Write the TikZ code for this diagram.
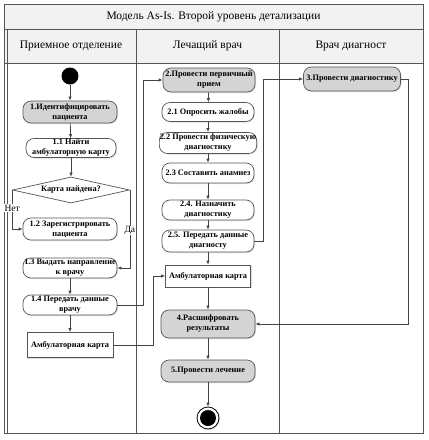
\documentclass[tikz,border=0pt]{standalone}
\usepackage{fontspec}
\setmainfont{Liberation Serif}
\usetikzlibrary{shapes.geometric,arrows.meta,shadows}
\definecolor{linec}{HTML}{555555}
\definecolor{hdr}{HTML}{F2F2F2}
\definecolor{gfill}{HTML}{D4D4D4}
\begin{document}
\begin{tikzpicture}[x=1pt,y=-1pt,
  act/.style={draw=linec, line width=0.7pt, rounded corners=8pt, fill=white,
    minimum width=94pt, minimum height=20pt, inner sep=0.5pt, align=center,
    font=\bfseries\fontsize{8.3}{10}\selectfont,
    drop shadow={opacity=0.25, shadow xshift=1pt, shadow yshift=-1pt}},
  gact/.style={act, fill=gfill},
  card/.style={draw=linec, line width=0.7pt, fill=white, inner sep=1pt,
    font=\bfseries\fontsize{8.3}{10}\selectfont,
    drop shadow={opacity=0.25, shadow xshift=1pt, shadow yshift=-1pt}},
  arr/.style={draw=linec!80!black, line width=0.7pt, -{Latex[length=4pt,width=3.5pt]}},
  lane/.style={draw=linec, line width=0.8pt},
  hdrtext/.style={font=\fontsize{11.5}{13}\selectfont},
  lbl/.style={fill=white, inner sep=0.5pt, font=\fontsize{9.5}{10}\selectfont}
]
\useasboundingbox (0,0) rectangle (429,440);
% frame
\fill[hdr] (4,4) rectangle (423,63);
\draw[lane] (4,4) rectangle (423,433);
\draw[lane] (4,29) -- (423,29);
\draw[lane] (4,63) -- (423,63);
\draw[lane] (7,29) -- (7,433);
\draw[lane, line width=1pt] (136,29) -- (136,433);
\draw[lane] (279,29) -- (279,433);
\node[hdrtext] (title) at (213.5,17) {Модель As-Is. Второй уровень детализации};
\node[hdrtext] (h1) at (71,46) {Приемное отделение};
\node[hdrtext] (h2) at (207.5,46) {Лечащий врач};
\node[hdrtext] (h3) at (351,46) {Врач диагност};
% left lane
\node[circle, fill=black, minimum size=17pt, inner sep=0pt] (start) at (70,76) {};
\node[gact, minimum height=22pt] (n1) at (70,112) {1.Идентифицировать\\пациента};
\node[act, minimum width=90pt, minimum height=19pt] (n11) at (71,148) {1.1 Найти\\амбулаторную карту};
\node[diamond, aspect=4.5, draw=linec, line width=0.7pt, fill=white, minimum width=117pt, minimum height=26pt, inner sep=0pt,
  font=\bfseries\fontsize{8.3}{9}\selectfont] (dia) at (71,190) {Карта найдена?};
\node[act, minimum height=22pt] (n12) at (70,229) {1.2 Зарегистрировать\\пациента};
\node[act] (n13) at (70,268) {1.3 Выдать направление\\к врачу};
\node[act] (n14) at (70,305) {1.4 Передать данные\\врачу};
\node[card, minimum width=86pt, minimum height=25pt] (cardL) at (70,345) {Амбулаторная карта};
% middle lane
\node[gact, minimum width=92pt, minimum height=24pt] (n2) at (209,80) {2.Провести первичный\\прием};
\node[act, minimum width=92pt, minimum height=19pt] (n21) at (208,112) {2.1 Опросить жалобы};
\node[act, minimum width=92pt, minimum height=21pt] (n22) at (208,143) {2.2 Провести физическую\\диагностику};
\node[act, minimum width=92pt] (n23) at (208,173) {2.3 Составить анамнез};
\node[act, minimum width=92pt] (n24) at (208,210) {2.4. Назначить\\диагностику};
\node[act, minimum width=92pt, minimum height=22pt] (n25) at (208,241) {2.5. Передать данные\\диагносту};
\node[card, minimum width=85pt, minimum height=22pt] (cardM) at (208,276) {Амбулаторная карта};
\node[gact, minimum height=28pt] (n4) at (208,324) {4.Расшифровать\\результаты};
\node[gact, minimum height=22pt] (n5) at (208,371) {5.Провести лечение};
\node[circle, draw=black, line width=0.8pt, fill=white, minimum size=22pt, inner sep=0pt,
  drop shadow={opacity=0.25, shadow xshift=1pt, shadow yshift=-1pt}] (endo) at (208,418) {};
\node[circle, fill=black, minimum size=16pt, inner sep=0pt] (endi) at (208,418) {};
% right lane
\node[gact, minimum width=97pt, minimum height=24pt] (n3) at (352,79) {3.Провести диагностику};
% connectors left
\draw[arr] (start) -- (n1);
\draw[arr] (n1) -- (n11);
\draw[arr] (n11) -- (dia);
\draw[arr] (dia.west) |- (n12.west) node[lbl, pos=0.23] (no) {Нет};
\draw[arr] (dia.east) |- (n13.east) node[lbl, pos=0.26] (yes) {Да};
\draw[arr] (n13) -- (n14);
\draw[arr] (n14) -- (cardL);
\draw[arr] (n14.east) -- ++(26,0) |- (n2.west);
\draw[arr] (cardL.east) -- ++(40,0) |- (cardM.west);
% connectors middle
\draw[arr] (n2) -- (n21);
\draw[arr] (n21) -- (n22);
\draw[arr] (n22) -- (n23);
\draw[arr] (n23) -- (n24);
\draw[arr] (n24) -- (n25);
\draw[arr] (n25) -- (cardM);
\draw[arr] (cardM) -- (n4);
\draw[arr] (n4) -- (n5);
\draw[arr] (n5) -- (endo);
\draw[arr] (n25.east) -- ++(9,0) |- (n3.west);
\draw[arr] (n3.east) -- ++(7,0) |- (n4.east);
\end{tikzpicture}
\end{document}
